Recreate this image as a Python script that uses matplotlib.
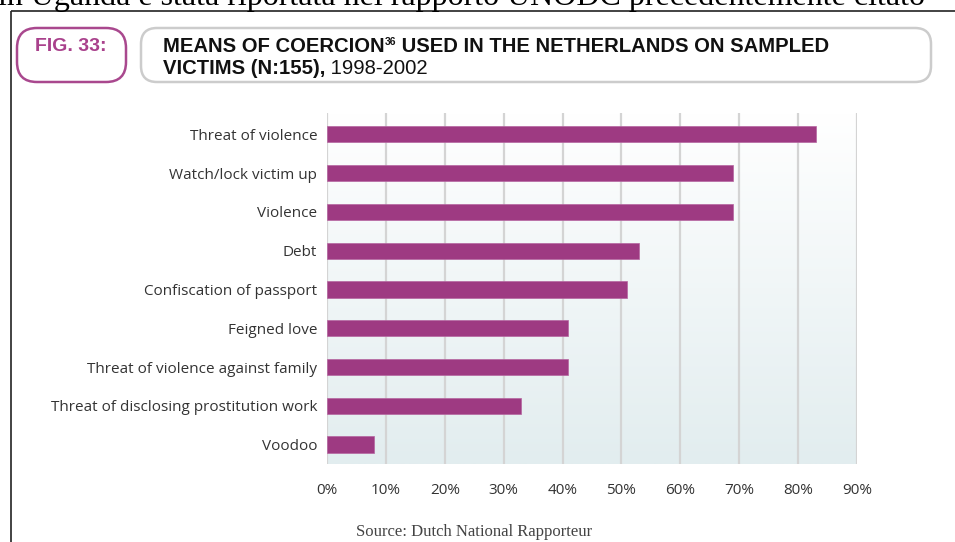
import numpy as np
import matplotlib
matplotlib.use("Agg")
import matplotlib.pyplot as plt
from matplotlib.patches import FancyBboxPatch

# Data
categories = [
    "Threat of violence",
    "Watch/lock victim up",
    "Violence",
    "Debt",
    "Confiscation of passport",
    "Feigned love",
    "Threat of violence against family",
    "Threat of disclosing prostitution work",
    "Voodoo",
]
values = [83, 69, 69, 53, 51, 41, 41, 33, 8]
xticks = [0, 10, 20, 30, 40, 50, 60, 70, 80, 90]
xtick_labels = [f"{t}%" for t in xticks]

W, H = 955, 542
fig = plt.figure(figsize=(W / 100, H / 100), dpi=100)
fig.patch.set_facecolor("white")

head_font = "Liberation Sans"
label_font = "Open Sans"
PURPLE = "#9e3a82"

# Full-figure overlay in pixel units (origin top-left) for the page furniture
page = fig.add_axes([0, 0, 1, 1], zorder=-1)
page.set_xlim(0, W)
page.set_ylim(H, 0)
page.axis("off")

# Running text from the page above the figure, clipped by the top edge
page.text(-2, 5, "in Uganda è stata riportata nel rapporto UNODC precedentemente citato",
          family="Liberation Serif", fontsize=23, color="black", ha="left", va="baseline",
          clip_on=False)

# Page frame lines
page.plot([11, W], [10.5, 10.5], color="#222222", lw=1.2, solid_capstyle="butt")
page.plot([11, 11], [10.5, H], color="#222222", lw=1.2, solid_capstyle="butt")

# Header boxes
page.add_patch(FancyBboxPatch((17, 28), 109, 54, boxstyle="round,pad=0,rounding_size=20",
                              facecolor="white", edgecolor="#a9488e", lw=1.8))
page.add_patch(FancyBboxPatch((141, 28), 790, 54, boxstyle="round,pad=0,rounding_size=16",
                              facecolor="white", edgecolor="#cccccc", lw=1.8))

page.text(35, 51, "FIG. 33:", family=head_font, fontweight="bold", fontsize=14,
          color="#a9418c", ha="left", va="baseline")

# Title lines built from pieces (superscript note, regular-weight years)
fig.canvas.draw()
renderer = fig.canvas.get_renderer()


def run_pieces(x0, y0, pieces):
    x = x0
    for text, size, weight, dy in pieces:
        t = page.text(x, y0 + dy, text, family=head_font, fontweight=weight,
                      fontsize=size, color="#111111", ha="left", va="baseline")
        bb = t.get_window_extent(renderer=renderer)
        x += bb.width


run_pieces(163, 52, [("MEANS OF COERCION", 14.6, "bold", 0),
                     ("36", 7.5, "bold", -7),
                     (" USED IN THE NETHERLANDS ON SAMPLED", 14.6, "bold", 0)])
run_pieces(163, 74, [("VICTIMS (N:155),", 14.6, "bold", 0),
                     (" 1998-2002", 14.6, "normal", 0)])

page.text(474, 532, "Source: Dutch National Rapporteur", family="Liberation Serif",
          fontsize=12, color="#444444", ha="center", va="center")

# Chart axes
ax = fig.add_axes([327 / W, 1 - 464 / H, (857 - 327) / W, (464 - 113) / H])
y = np.arange(len(categories))
ax.set_xlim(0, 90)
ax.set_ylim(len(categories) - 0.5, -0.55)

# Vertical gradient background
grad = np.linspace(0, 1, 256).reshape(-1, 1)
top = np.array([1.0, 1.0, 1.0])
bottom = np.array([0xe2, 0xed, 0xef]) / 255
img = top + (bottom - top) * grad[:, :, None] * np.ones((1, 1, 3))
ax.imshow(img, extent=[0, 90, len(categories) - 0.5, -0.55], aspect="auto", zorder=0)

for t in xticks:
    ax.axvline(t, color="#d4d4d4", lw=1.6, zorder=1)

ax.barh(y, values, height=0.42, color=PURPLE, edgecolor="#b565a0", lw=0.5, zorder=2)

ax.set_yticks(y)
ax.set_yticklabels(categories, family=label_font, fontsize=11, color="#333333")
ax.set_xticks(xticks)
ax.set_xticklabels(xtick_labels, family=label_font, fontsize=11, color="#333333")
ax.tick_params(axis="y", length=0, pad=7)
ax.tick_params(axis="x", length=0, pad=14)
for s in ax.spines.values():
    s.set_visible(False)

fig.savefig("out.png", dpi=100)
